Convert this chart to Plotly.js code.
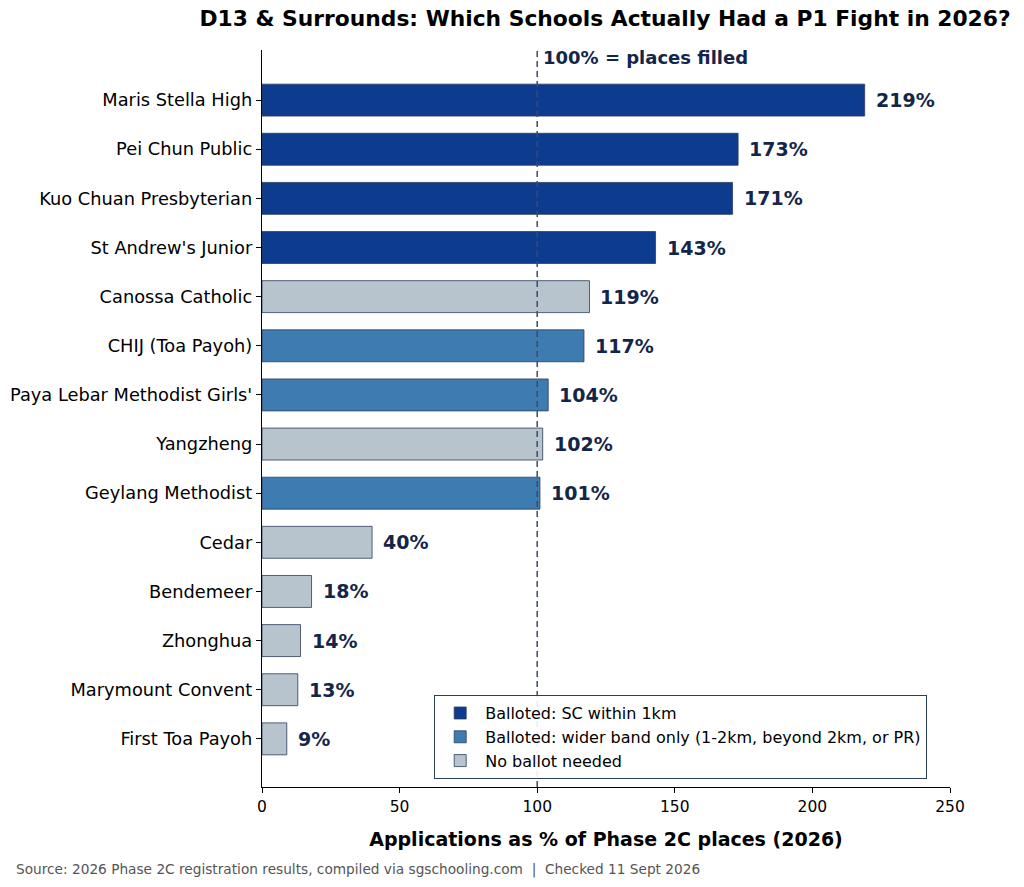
<!DOCTYPE html>
<html><head><meta charset="utf-8">
<script src="https://cdn.plot.ly/plotly-3.0.1.min.js"></script>
<style>html,body{margin:0;padding:0;background:#fff}#chart{width:1024px;height:887px}</style>
</head><body><div id="chart"></div>
<script>
const schools = ["Maris Stella High","Pei Chun Public","Kuo Chuan Presbyterian","St Andrew's Junior","Canossa Catholic","CHIJ (Toa Payoh)","Paya Lebar Methodist Girls'","Yangzheng","Geylang Methodist","Cedar","Bendemeer","Zhonghua","Marymount Convent","First Toa Payoh"];
const values = [219,173,171,143,119,117,104,102,101,40,18,14,13,9];
const status = ["sc","sc","sc","sc","none","wider","wider","none","wider","none","none","none","none","none"];
const groupNames = {sc:"Balloted: SC within 1km", wider:"Balloted: wider band only (1-2km, beyond 2km, or PR)", none:"No ballot needed"};
const groupColors = {sc:"#0d3b8e", wider:"#3d7bb1", none:"#b8c4cd"};
const xTicks = [0,50,100,150,200,250];

const F = "DejaVu Sans, sans-serif";
const traces = ["sc","wider","none"].map(g => {
  const ys=[], xs=[];
  schools.forEach((s,i)=>{ if(status[i]===g){ ys.push(s); xs.push(values[i]); } });
  return {type:"bar", orientation:"h", name:groupNames[g], x:xs, y:ys, width:0.65,
    marker:{color:groupColors[g], line:{color:"#2c3e5a", width:0.8}}, hoverinfo:"x+y"};
});

const annotations = schools.map((s,i)=>({x:values[i], y:s, xref:"x", yref:"y", text:values[i]+"%",
  showarrow:false, xanchor:"left", yanchor:"middle", xshift:9,
  font:{family:F, size:19, color:"#13264a", weight:"bold"}}));
annotations.push({x:100, y:1, xref:"x", yref:"paper", text:"100% = places filled", showarrow:false,
  xanchor:"left", yanchor:"middle", xshift:4, yshift:-7, font:{family:F, size:18, color:"#13264a", weight:"bold"}});
const pw = 1024-262-74, ph = 887-50-100;
annotations.push({x:(14-262)/pw, y:(787-869)/ph, xref:"paper", yref:"paper", text:"Source: 2026 Phase 2C registration results, compiled via sgschooling.com  |  Checked 11 Sept 2026",
  showarrow:false, xanchor:"left", yanchor:"middle", font:{family:F, size:13.7, color:"#555555"}});
const layout = {
  width:1024, height:887, paper_bgcolor:"#fff", plot_bgcolor:"#fff",
  margin:{l:262, r:74, t:50, b:100},
  barmode:"overlay",
  title:{text:"D13 & Surrounds: Which Schools Actually Had a P1 Fight in 2026?", x:605/1024, xanchor:"center", y:1-18/887, yanchor:"middle",
    font:{family:F, size:21.8, color:"#000", weight:"bold"}},
  xaxis:{range:[0,250], tickvals:xTicks, ticktext:xTicks.map(String), showgrid:false, zeroline:false,
    showline:true, linecolor:"#000", linewidth:1.2, ticks:"outside", ticklen:5, tickcolor:"#000",
    tickfont:{family:F, size:15.5, color:"#000"},
    title:{text:"Applications as % of Phase 2C places (2026)", standoff:18, font:{family:F, size:19, color:"#000", weight:"bold"}}},
  yaxis:{type:"category", categoryorder:"array", categoryarray:schools, range:[13.98,-1.02], showgrid:false, zeroline:false,
    showline:true, linecolor:"#000", linewidth:1.2, ticks:"outside", ticklen:5, tickcolor:"#000",
    tickfont:{family:F, size:17.8, color:"#000"}},
  shapes:[{type:"line", xref:"x", yref:"paper", x0:100, x1:100, y0:0, y1:1, line:{color:"#3a4c66", width:1.5, dash:"6px,4px"}, layer:"above"}],
  legend:{x:0.25, xanchor:"left", y:0.011, yanchor:"bottom", bgcolor:"rgba(255,255,255,0.9)", bordercolor:"#2c3e5a", borderwidth:1.2,
    font:{family:F, size:16, color:"#000"}, traceorder:"normal", itemwidth:40},
  showlegend:true,
  annotations:annotations
};
Plotly.newPlot("chart", traces, layout, {displayModeBar:false, staticPlot:true});
</script></body></html>
